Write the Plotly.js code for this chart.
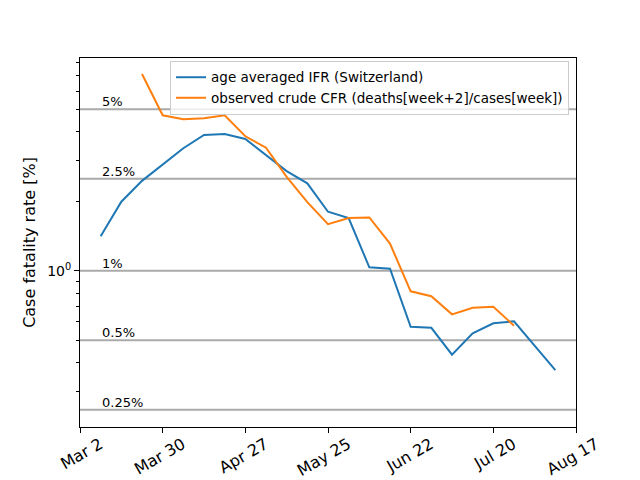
<!DOCTYPE html>
<html>
<head>
<meta charset="utf-8">
<script src="https://cdn.plot.ly/plotly-3.0.1.min.js"></script>
<style>html,body{margin:0;padding:0;background:#fff;}#chart{width:640px;height:480px;}</style>
</head>
<body>
<div id="chart"></div>
<script>
const ifrDates = ['2020-03-09','2020-03-16','2020-03-23','2020-03-30','2020-04-06','2020-04-13','2020-04-20','2020-04-27','2020-05-04','2020-05-11','2020-05-18','2020-05-25','2020-06-01','2020-06-08','2020-06-15','2020-06-22','2020-06-29','2020-07-06','2020-07-13','2020-07-20','2020-07-27','2020-08-03','2020-08-10'];
const ifrValues = [1.41,1.99,2.45,2.87,3.39,3.87,3.91,3.72,3.17,2.70,2.39,1.80,1.69,1.034,1.02,0.572,0.566,0.433,0.536,0.592,0.604,0.473,0.371];
const cfrDates = ['2020-03-23','2020-03-30','2020-04-06','2020-04-13','2020-04-20','2020-04-27','2020-05-04','2020-05-11','2020-05-18','2020-05-25','2020-06-01','2020-06-08','2020-06-15','2020-06-22','2020-06-29','2020-07-06','2020-07-13','2020-07-20','2020-07-27'];
const cfrValues = [7.11,4.71,4.53,4.57,4.71,3.82,3.41,2.55,1.98,1.59,1.69,1.70,1.31,0.814,0.775,0.647,0.691,0.698,0.578];
const refLevels = [0.25,0.5,1,2.5,5];
const refLabels = ['0.25%','0.5%','1%','2.5%','5%'];
const labelDate = '2020-03-09';
const xTickVals = ['2020-03-02','2020-03-30','2020-04-27','2020-05-25','2020-06-22','2020-07-20','2020-08-17'];
const xTickText = ['Mar 2','Mar 30','Apr 27','May 25','Jun 22','Jul 20','Aug 17'];
const yMinorVals = [0.3,0.4,0.5,0.6,0.7,0.8,0.9,2,3,4,5,6,7,8];

const font = 'DejaVu Sans, sans-serif';
const traces = [
  {x: ifrDates, y: ifrValues, type:'scatter', mode:'lines', name:'age averaged IFR (Switzerland)', line:{color:'#1f77b4', width:2}},
  {x: cfrDates, y: cfrValues, type:'scatter', mode:'lines', name:'observed crude CFR (deaths[week+2]/cases[week])', line:{color:'#ff7f0e', width:2}}
];
const shapes = refLevels.map(v => ({type:'line', xref:'paper', x0:0, x1:1, yref:'y', y0:v, y1:v, line:{color:'#aaaaaa', width:2}, layer:'below'}));
const annotations = refLevels.map((v,i) => ({x: labelDate, y: Math.log10(v), xref:'x', yref:'y', text: refLabels[i], showarrow:false, xanchor:'left', yanchor:'bottom', font:{family:font, size:13, color:'#000'}, xshift:-1, yshift:-2}));
const layout = {
  width:640, height:480,
  margin:{l:80, r:64, t:58, b:53},
  paper_bgcolor:'#fff', plot_bgcolor:'#fff',
  font:{family:font, color:'#000'},
  showlegend:true,
  legend:{x:0.986, xanchor:'right', y:0.992, yanchor:'top', bgcolor:'rgba(255,255,255,0.8)', bordercolor:'#cccccc', borderwidth:1, font:{family:font, size:13.5}, itemwidth:30, tracegroupgap:0},
  xaxis:{type:'date', range:['2020-03-02','2020-08-17'], tickmode:'array', tickvals:xTickVals, ticktext:xTickText, tickangle:-30, ticklabelshift:20, ticklabelstandoff:-4, ticklabeloverflow:'allow', ticks:'outside', ticklen:5, tickcolor:'#000', showgrid:false, zeroline:false, showline:true, linecolor:'#000', linewidth:1, mirror:true, tickfont:{family:font, size:16}},
  yaxis:{type:'log', range:[-0.6769, 0.9212], tickmode:'array', tickvals:[1], ticktext:['10<sup>0</sup>'], ticks:'outside', ticklen:5, tickcolor:'#000', showgrid:false, zeroline:false, showline:true, linecolor:'#000', linewidth:1, mirror:true, tickfont:{family:font, size:14},
    minor:{tickmode:'array', tickvals:yMinorVals, ticks:'outside', ticklen:3, tickcolor:'#000', showgrid:false},
    title:{text:'Case fatality rate [%]', font:{family:font, size:16}, standoff:7}},
  shapes: shapes,
  annotations: annotations
};
Plotly.newPlot('chart', traces, layout, {displayModeBar:false, staticPlot:true});
</script>
</body>
</html>
